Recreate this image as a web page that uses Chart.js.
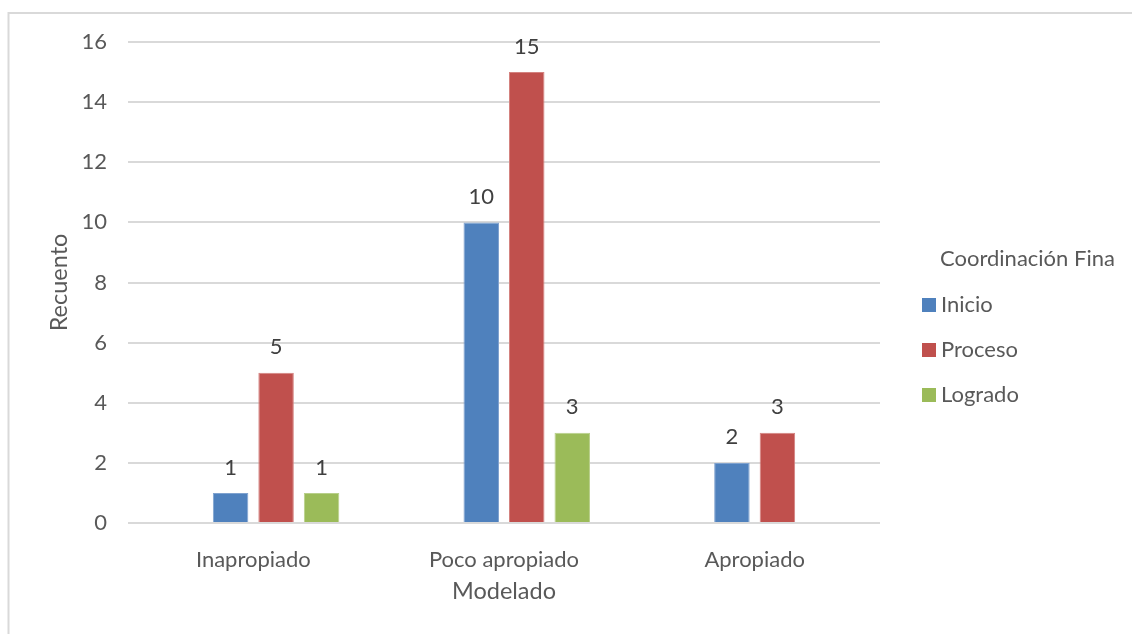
<!DOCTYPE html>
<html>
<head>
<meta charset="utf-8">
<title>Modelado – Coordinación Fina</title>
<script src="https://cdn.jsdelivr.net/npm/chart.js@4.4.1/dist/chart.umd.min.js"></script>
<style>
  html, body { margin: 0; padding: 0; background: #ffffff; }
  canvas { display: block; }
</style>
</head>
<body>
<canvas id="chart" width="1132" height="634"></canvas>
<script>
// Categories on the x axis and counts per series
const categories = ['Inapropiado', 'Poco apropiado', 'Apropiado'];
const inicio  = [1, 10, 2];
const proceso = [5, 15, 3];
const logrado = [1, 3, null];
const yTicks  = [0, 2, 4, 6, 8, 10, 12, 14, 16];

const xTitle = 'Modelado';
const yTitle = 'Recuento';
const legendTitle = 'Coordinación Fina';

const FONT = 'Lato';
const TEXT = '#595959';

// Light frame along the top and left edges
const frame = {
  id: 'frame',
  beforeDraw(chart) {
    const ctx = chart.ctx;
    ctx.save();
    ctx.strokeStyle = '#d9d9d9';
    ctx.lineWidth = 2;
    ctx.beginPath();
    ctx.moveTo(8.5, chart.height);
    ctx.lineTo(8.5, 13);
    ctx.lineTo(chart.width, 13);
    ctx.stroke();
    ctx.restore();
  }
};

// Count printed above each bar
const valueLabels = {
  id: 'valueLabels',
  afterDatasetsDraw(chart) {
    const ctx = chart.ctx;
    ctx.save();
    ctx.font = `22px ${FONT}`;
    ctx.fillStyle = '#404040';
    ctx.textAlign = 'center';
    ctx.textBaseline = 'middle';
    chart.data.datasets.forEach((ds, i) => {
      if (!ds.label) return;
      chart.getDatasetMeta(i).data.forEach((bar, j) => {
        const v = ds.data[j];
        if (v === null || v === undefined) return;
        ctx.fillText(String(v), bar.x, bar.y - 25.5);
      });
    });
    ctx.restore();
  }
};

// Legend with title on the right side
const seriesLegend = {
  id: 'seriesLegend',
  afterDraw(chart) {
    const ctx = chart.ctx;
    ctx.save();
    ctx.font = `22px ${FONT}`;
    ctx.fillStyle = TEXT;
    ctx.textAlign = 'left';
    ctx.textBaseline = 'middle';
    ctx.fillText(legendTitle, 940, 259);
    let y = 305;
    chart.data.datasets.forEach(ds => {
      if (!ds.label) return;
      ctx.fillStyle = ds.backgroundColor;
      ctx.fillRect(922, y - 7, 14, 14);
      ctx.fillStyle = TEXT;
      ctx.fillText(ds.label, 941, y);
      y += 45;
    });
    ctx.restore();
  }
};

const barOpts = { categoryPercentage: 0.726, barPercentage: 0.78, borderWidth: 1 };

function draw() {
  new Chart(document.getElementById('chart'), {
    type: 'bar',
    data: {
      labels: categories,
      datasets: [
        // empty leading slot in each group
        Object.assign({ label: '', data: [null, null, null] }, barOpts),
        Object.assign({ label: 'Inicio',  data: inicio,  backgroundColor: '#4f81bd', borderColor: '#7fa2cf' }, barOpts),
        Object.assign({ label: 'Proceso', data: proceso, backgroundColor: '#c0504d', borderColor: '#d4827f' }, barOpts),
        Object.assign({ label: 'Logrado', data: logrado, backgroundColor: '#9bbb59', borderColor: '#b8cf8a' }, barOpts)
      ]
    },
    options: {
      responsive: false,
      animation: false,
      layout: { padding: { left: 41, right: 252, top: 42, bottom: 24 } },
      plugins: { legend: { display: false }, tooltip: { enabled: false } },
      scales: {
        x: {
          grid: { display: false },
          border: { display: false },
          ticks: { color: TEXT, font: { family: FONT, size: 22 }, padding: 16, maxRotation: 0 },
          title: { display: true, text: xTitle, color: TEXT, font: { family: FONT, size: 23.5 } },
          afterFit(scale) { scale.height = 87; }
        },
        y: {
          min: 0,
          max: 16,
          afterBuildTicks(scale) { scale.ticks = yTicks.map(v => ({ value: v })); },
          grid: { color: '#d9d9d9', lineWidth: 2, drawTicks: false },
          border: { display: false },
          ticks: { color: TEXT, font: { family: FONT, size: 22 }, padding: 21 },
          title: { display: true, text: yTitle, color: TEXT, font: { family: FONT, size: 23.5 } },
          afterFit(scale) { scale.width = 87; }
        }
      }
    },
    plugins: [frame, valueLabels, seriesLegend]
  });
}

if (document.fonts && document.fonts.load) {
  document.fonts.load(`22px ${FONT}`).then(draw, draw);
} else {
  draw();
}
</script>
</body>
</html>
